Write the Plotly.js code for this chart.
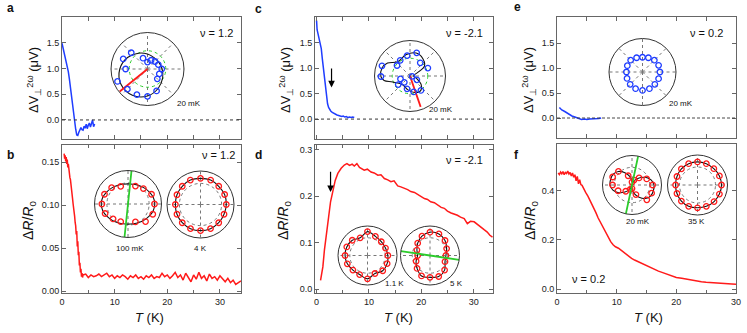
<!DOCTYPE html>
<html>
<head>
<meta charset="utf-8">
<script src="https://cdn.plot.ly/plotly-3.0.1.min.js"></script>
<style>html,body{margin:0;padding:0;background:#fff}#plot{width:747px;height:333px}</style>
</head>
<body>
<div id="plot"></div>
<script>
// main curves
var aT = [0, 0.2, 0.4, 0.6, 0.8, 1.0, 1.2, 1.4, 1.6, 1.8, 2.0, 2.2, 2.4, 2.6, 2.8, 3.0, 3.2, 3.4, 3.6, 3.8, 4.0, 4.2, 4.4, 4.6, 4.8, 5.0, 5.2, 5.4, 5.6, 5.8, 6.0, 6.2];
var aV = [1.49, 1.40, 1.30, 1.25, 1.17, 1.05, 0.94, 0.80, 0.62, 0.45, 0.28, 0.08, -0.05, -0.18, -0.29, -0.30, -0.24, -0.20, -0.15, -0.19, -0.20, -0.12, -0.16, -0.08, -0.17, -0.10, -0.06, -0.14, -0.05, 0.00, -0.13, -0.08];

var bT = [0.4, 0.5, 0.6, 0.7, 0.8, 0.9, 1.0, 1.1, 1.2, 1.3, 1.4, 1.5, 1.6, 1.7, 1.8, 1.9, 2.0, 2.1, 2.2, 2.3, 2.4, 2.5, 2.6, 2.7, 2.8, 2.9, 3.0, 3.1, 3.2, 3.3, 3.4, 3.5, 3.6, 3.7, 3.8, 3.9, 4.0,
  4.5, 5, 5.5, 6, 6.5, 7, 7.5, 8, 8.5, 9, 9.5, 10, 10.5, 11, 11.5, 12, 12.5, 13, 13.5, 14, 14.5, 15, 15.5, 16, 16.5, 17, 17.5, 18, 18.5, 19, 19.5, 20,
  20.5, 21, 21.5, 22, 22.5, 23, 23.5, 24, 24.5, 25, 25.5, 26, 26.5, 27, 27.5, 28, 28.5, 29, 29.5, 30, 30.5, 31, 31.5, 32, 32.5, 33, 33.5, 34];
var bR = [0.160, 0.154, 0.158, 0.151, 0.156, 0.148, 0.153, 0.144, 0.148, 0.139, 0.141, 0.132, 0.130, 0.122, 0.118, 0.112, 0.108, 0.102, 0.098, 0.092, 0.087, 0.080, 0.076, 0.066, 0.070, 0.052, 0.058, 0.042, 0.046, 0.030, 0.033, 0.022, 0.026, 0.017, 0.021, 0.016, 0.019,
  0.020, 0.016, 0.019, 0.017, 0.018, 0.020, 0.017, 0.019, 0.021, 0.017, 0.019, 0.015, 0.018, 0.016, 0.019, 0.017, 0.014, 0.018, 0.016, 0.019, 0.015, 0.017, 0.014, 0.018, 0.016, 0.019, 0.015, 0.017, 0.016, 0.021, 0.017, 0.019,
  0.015, 0.018, 0.022, 0.016, 0.019, 0.013, 0.021, 0.016, 0.011, 0.019, 0.014, 0.022, 0.015, 0.018, 0.012, 0.020, 0.015, 0.017, 0.013, 0.018, 0.014, 0.011, 0.015, 0.010, 0.013, 0.008, 0.010, 0.012];

var cT = [0, 0.1, 0.3, 0.5, 0.7, 0.9, 1.1, 1.3, 1.5, 1.7, 1.9, 2.1, 2.3, 2.5, 2.7, 3.0, 3.3, 3.6, 3.9, 4.2, 4.5, 4.8, 5.1, 5.4, 5.7, 6.0, 6.3, 6.6, 6.9, 7.2];
var cV = [1.93, 1.75, 1.66, 1.58, 1.50, 1.38, 1.18, 0.98, 0.78, 0.58, 0.42, 0.30, 0.23, 0.18, 0.16, 0.13, 0.11, 0.09, 0.08, 0.07, 0.06, 0.05, 0.06, 0.04, 0.05, 0.03, 0.04, 0.03, 0.04, 0.03];

var dT = [0.76, 1.0, 1.2, 1.5, 1.85, 2.3, 2.67, 3.1, 3.56, 4.06, 4.7, 5.3, 5.8, 6.3, 6.8, 7.2, 7.7, 8.2, 8.7, 9.1, 9.7, 10.4, 11.0, 11.7, 12.3, 12.95, 13.6, 14.2, 14.8, 15.5, 16.1, 16.8, 17.4, 18.0, 18.7, 19.3, 20.0, 20.6, 21.2, 21.8, 22.5, 23.1, 23.8, 24.4, 25.0, 25.7, 26.3, 26.9, 27.5, 28.2, 28.8, 29.4, 30.1, 30.7, 31.4, 32.0, 32.6, 33.1, 33.6];
var dR = [0.019, 0.035, 0.048, 0.084, 0.120, 0.155, 0.188, 0.213, 0.234, 0.249, 0.260, 0.267, 0.270, 0.266, 0.269, 0.265, 0.270, 0.262, 0.258, 0.256, 0.258, 0.252, 0.250, 0.245, 0.246, 0.238, 0.235, 0.231, 0.233, 0.222, 0.220, 0.217, 0.214, 0.210, 0.208, 0.204, 0.199, 0.195, 0.193, 0.188, 0.186, 0.181, 0.176, 0.174, 0.168, 0.164, 0.162, 0.159, 0.155, 0.152, 0.141, 0.146, 0.145, 0.139, 0.134, 0.128, 0.123, 0.116, 0.112];

var eT = [0.4, 0.8, 1.3, 1.9, 2.5, 3.0, 3.5, 4.1, 4.6, 5.0, 5.5, 6.0, 6.5, 7.0, 7.4];
var eV = [0.21, 0.16, 0.13, 0.08, 0.04, 0.02, -0.01, -0.03, -0.02, -0.03, -0.02, -0.02, -0.01, -0.01, 0.0];

var fT = [0.2, 0.4, 0.6, 0.8, 1.0, 1.2, 1.4, 1.6, 1.8, 2.0, 2.2, 2.4, 2.6, 2.8, 3.0, 3.2, 3.4, 3.6, 3.8, 4.0, 4.2, 4.4, 4.8, 5.2, 5.6, 6.1, 6.5, 6.9, 7.3, 7.8, 8.2, 8.6, 9.0, 9.4, 9.8, 10.3, 10.8, 11.4, 11.9, 12.5, 13.0, 13.6, 14.1, 14.7, 15.3, 15.9, 16.4, 17.0, 17.6, 18.1, 18.6, 19.2, 20.0, 20.9, 21.7, 22.6, 23.4, 24.2, 25.0, 25.9, 26.7, 27.6, 28.2, 28.7, 29.3, 30.0];
var fR = [0.472, 0.466, 0.476, 0.469, 0.478, 0.465, 0.474, 0.470, 0.480, 0.468, 0.474, 0.460, 0.472, 0.455, 0.465, 0.440, 0.458, 0.428, 0.445, 0.425, 0.422, 0.410, 0.393, 0.377, 0.358, 0.336, 0.312, 0.289, 0.270, 0.248, 0.228, 0.207, 0.193, 0.180, 0.172, 0.166, 0.156, 0.146, 0.136, 0.125, 0.118, 0.111, 0.104, 0.098, 0.091, 0.084, 0.079, 0.073, 0.068, 0.064, 0.058, 0.053, 0.047, 0.044, 0.040, 0.037, 0.033, 0.030, 0.028, 0.026, 0.024, 0.023, 0.021, 0.020, 0.021, 0.020];

// polar insets (angle in degrees, r relative to outer circle)
var ang16 = [0, 22.5, 45, 67.5, 90, 112.5, 135, 157.5, 180, 202.5, 225, 247.5, 270, 292.5, 315, 337.5];
var ang30 = [0, 30, 60, 90, 120, 150, 180, 210, 240, 270, 300, 330, 360];
var ang15 = [0, 15, 30, 45, 60, 75, 90, 105, 120, 135, 150, 165, 180, 195, 210, 225, 240, 255, 270, 285, 300, 315, 330, 345, 360];

var aPolR = [0.39, 0.32, 0.29, 0.26, 0.19, 0.32, 0.63, 0.72, 0.60, 0.89, 0.78, 0.76, 0.75, 0.65, 0.38, 0.35];
var aFitR = [0.40, 0.36, 0.36, 0.41, 0.50, 0.63, 0.76, 0.84, 0.83, 0.74, 0.60, 0.48, 0.40];

var b1Ang = [0, 22.5, 45, 67.5, 112.5, 135, 157.5, 180, 202.5, 225, 247.5, 292.5, 315, 337.5];
var b1R = [0.79, 0.76, 0.65, 0.58, 0.57, 0.69, 0.76, 0.78, 0.74, 0.63, 0.57, 0.58, 0.74, 0.80];
var b1FitR = [0.80, 0.78, 0.73, 0.68, 0.64, 0.61, 0.60, 0.61, 0.64, 0.68, 0.73, 0.78, 0.80, 0.78, 0.73, 0.68, 0.64, 0.61, 0.60, 0.61, 0.64, 0.68, 0.73, 0.78, 0.80];
var b2R = [0.77, 0.78, 0.77, 0.79, 0.78, 0.79, 0.77, 0.76, 0.75, 0.76, 0.77, 0.78, 0.78, 0.78, 0.77, 0.76];

var cAng = [24, 52, 74, 98, 122, 141, 160, 181, 197, 216, 228, 257, 283, 307, 331, 350];
var cR = [0.55, 0.47, 0.68, 0.58, 0.52, 0.47, 0.84, 0.82, 0.28, 0.41, 0.24, 0.37, 0.46, 0.51, 0.22, 0.06];
var cFitAng = [0, 27, 34, 54, 75, 101, 131, 150, 164, 181, 190, 199, 230, 260, 285, 303, 322, 342, 360];
var cFitR = [0.10, 0.30, 0.49, 0.61, 0.67, 0.61, 0.53, 0.73, 0.82, 0.82, 0.74, 0.52, 0.32, 0.39, 0.48, 0.52, 0.40, 0.18, 0.10];

var d1R = [0.69, 0.66, 0.66, 0.70, 0.81, 0.65, 0.73, 0.76, 0.76, 0.74, 0.70, 0.70, 0.79, 0.66, 0.73, 0.72];
var d2R = [0.54, 0.61, 0.72, 0.79, 0.79, 0.71, 0.59, 0.48, 0.42, 0.51, 0.62, 0.75, 0.74, 0.77, 0.70, 0.55];

var ePolR = [0.52, 0.52, 0.50, 0.46, 0.44, 0.46, 0.50, 0.49, 0.48, 0.50, 0.52, 0.54, 0.55, 0.54, 0.52, 0.52];

var f1R = [0.70, 0.54, 0.34, 0.18, 0.10, 0.34, 0.65, 0.71, 0.66, 0.51, 0.30, 0.16, 0.12, 0.35, 0.71, 0.72];
var f1FitR = [0.745, 0.67, 0.52, 0.34, 0.18, 0.085, 0.15, 0.30, 0.48, 0.65, 0.735, 0.75, 0.745, 0.67, 0.52, 0.34, 0.18, 0.085, 0.15, 0.30, 0.48, 0.65, 0.735, 0.75, 0.745];
var f2R = [0.80, 0.79, 0.77, 0.77, 0.77, 0.77, 0.76, 0.74, 0.73, 0.74, 0.76, 0.77, 0.76, 0.77, 0.78, 0.79];

var BLUE = '#1f3dff', RED = '#ff1a1a', GREEN = '#2ccc2c';
var W = 747, H = 333;
function px(x) { return x / W; }
function py(y) { return 1 - y / H; }
function close(a) { return a.concat([a[0]]); }

var data = [
  {x: aT, y: aV, xaxis: 'x', yaxis: 'y', mode: 'lines', line: {color: BLUE, width: 1.5}},
  {x: bT, y: bR, xaxis: 'x2', yaxis: 'y2', mode: 'lines', line: {color: RED, width: 1.5}},
  {x: cT, y: cV, xaxis: 'x3', yaxis: 'y3', mode: 'lines', line: {color: BLUE, width: 1.5}},
  {x: dT, y: dR, xaxis: 'x4', yaxis: 'y4', mode: 'lines', line: {color: RED, width: 1.5}},
  {x: eT, y: eV, xaxis: 'x5', yaxis: 'y5', mode: 'lines', line: {color: BLUE, width: 1.5}},
  {x: fT, y: fR, xaxis: 'x6', yaxis: 'y6', mode: 'lines', line: {color: RED, width: 1.5}}
];

function fit(sub, th, r) {
  return {type: 'scatterpolar', subplot: sub, theta: th, r: r, mode: 'lines',
    line: {color: '#111', width: 1.1, shape: 'spline'}};
}
function pts(sub, th, r, col) {
  return {type: 'scatterpolar', subplot: sub, theta: th, r: r, mode: 'markers',
    marker: {symbol: 'circle-open', size: 5.5, color: col, line: {width: 1.3}}};
}
function ray(sub, th, r, col) {
  return {type: 'scatterpolar', subplot: sub, theta: th, r: r, mode: 'lines',
    line: {color: col, width: 1.8}};
}

data.push(fit('polar', ang30, aFitR), ray('polar', [0, 219], [0, 0.98], RED), pts('polar', ang16, aPolR, BLUE));
data.push(fit('polar2', ang15, b1FitR), pts('polar2', b1Ang, b1R, RED), ray('polar2', [84, 0, 264], [0.99, 0, 0.99], GREEN));
data.push(fit('polar3', close(ang16), close(b2R)), pts('polar3', ang16, b2R, RED));
data.push(fit('polar4', cFitAng, cFitR), ray('polar4', [0, 289], [0, 0.92], RED), pts('polar4', cAng, cR, BLUE));
data.push(fit('polar5', close(ang16), close(d1R)), pts('polar5', ang16, d1R, RED));
data.push(fit('polar6', close(ang16), close(d2R)), pts('polar6', ang16, d2R, RED), ray('polar6', [171.5, 0, 351.5], [1, 0, 1], GREEN));
data.push(pts('polar7', ang16, ePolR, BLUE));
data.push(fit('polar8', ang15, f1FitR), pts('polar8', ang16, f1R, RED), ray('polar8', [78, 0, 258], [1, 0, 1], GREEN));
data.push(fit('polar9', close(ang16), close(f2R)), pts('polar9', ang16, f2R, RED));

function ax(extra) {
  var base = {showline: true, linecolor: '#666', linewidth: 1, mirror: 'ticks', ticks: 'inside', ticklen: 4,
    tickcolor: '#666', showgrid: false, zeroline: false, tickfont: {size: 9, color: '#222'}};
  for (var k in extra) base[k] = extra[k];
  return base;
}

function polar(cx, cy, R, dt, ring, ringCol) {
  return {
    domain: {x: [px(cx - R), px(cx + R)], y: [py(cy + R), py(cy - R)]},
    bgcolor: 'rgba(0,0,0,0)',
    angularaxis: {showline: true, linecolor: '#333', linewidth: 1, showticklabels: false, ticks: '',
      tickmode: 'linear', tick0: 0, dtick: dt, gridcolor: '#777', griddash: 'dot', gridwidth: 1},
    radialaxis: {range: [0, 1], showline: false, showticklabels: false, ticks: '',
      tickvals: ring ? [ring] : [], showgrid: !!ring, gridcolor: ringCol || '#777', griddash: 'dot', gridwidth: 1}
  };
}

function txt(x, y, s, size, anchor, extra) {
  var o = {xref: 'paper', yref: 'paper', x: px(x), y: py(y), text: s, showarrow: false,
    xanchor: anchor || 'center', yanchor: 'middle', font: {size: size, color: '#111'}};
  for (var k in extra) o[k] = extra[k];
  return o;
}

var yV = 'ΔV<sub>⊥</sub><sup>2ω</sup> (μV)';
var yR = 'Δ<i>R</i>/<i>R</i><sub>0</sub>';
var xT = '<i>T</i> (K)';

var annotations = [
  txt(10, 8, '<b>a</b>', 12), txt(10, 155, '<b>b</b>', 12), txt(258, 9, '<b>c</b>', 12),
  txt(258, 155, '<b>d</b>', 12), txt(517, 7, '<b>e</b>', 12), txt(516, 155, '<b>f</b>', 12),
  txt(235, 33, 'ν = 1.2', 11, 'right'), txt(237, 155, 'ν = 1.2', 11, 'right'),
  txt(485, 33, 'ν = -2.1', 11, 'right'), txt(485, 160, 'ν = -2.1', 11, 'right'),
  txt(725, 33, 'ν = 0.2', 11, 'right'), txt(570, 279, 'ν = 0.2', 11, 'left'),
  txt(189, 103, '20 mK', 8), txt(441, 109, '20 mK', 8), txt(681, 103, '20 mK', 8),
  txt(130, 248, '100 mK', 8), txt(200, 248, '4 K', 8),
  txt(394, 283, '1.1 K', 8), txt(456, 283, '5 K', 8),
  txt(638, 221, '20 mK', 8), txt(696, 221, '35 K', 8),
  txt(34, 80, yV, 13, 'center', {textangle: -90}), txt(286, 80, yV, 13, 'center', {textangle: -90}),
  txt(529, 80, yV, 13, 'center', {textangle: -90}),
  txt(29, 220, yR, 14, 'center', {textangle: -90}), txt(284, 220, yR, 14, 'center', {textangle: -90}),
  txt(531, 220, yR, 14, 'center', {textangle: -90}),
  txt(149, 317, xT, 13), txt(398, 317, xT, 13), txt(648, 317, xT, 13),
  {xref: 'x3', yref: 'y3', x: 2.86, y: 0.62, axref: 'x3', ayref: 'y3', ax: 2.86, ay: 1.02, text: '',
    showarrow: true, arrowhead: 2, arrowsize: 1.1, arrowwidth: 1.2, arrowcolor: '#000'},
  {xref: 'x4', yref: 'y4', x: 2.67, y: 0.209, axref: 'x4', ayref: 'y4', ax: 2.67, ay: 0.256, text: '',
    showarrow: true, arrowhead: 2, arrowsize: 1.1, arrowwidth: 1.2, arrowcolor: '#000'}
];

var shapes = [
  {type: 'line', xref: 'x domain', x0: 0, x1: 1, yref: 'y', y0: 0, y1: 0, line: {color: '#333', width: 1, dash: 'dot'}},
  {type: 'line', xref: 'x3 domain', x0: 0, x1: 1, yref: 'y3', y0: 0, y1: 0, line: {color: '#333', width: 1, dash: 'dot'}},
  {type: 'line', xref: 'x5 domain', x0: 0, x1: 1, yref: 'y5', y0: 0, y1: 0, line: {color: '#333', width: 0.9, dash: '3px,2px'}}
];

var layout = {
  width: W, height: H,
  margin: {l: 0, r: 0, t: 0, b: 0},
  paper_bgcolor: '#fff', plot_bgcolor: '#fff',
  showlegend: false,
  font: {family: 'Liberation Sans, Arial, sans-serif', color: '#111'},
  xaxis: ax({domain: [px(62), px(241)], range: [0, 34], dtick: 5, showticklabels: false, anchor: 'y'}),
  yaxis: ax({domain: [py(139), py(17)], range: [-0.37, 2.0], tickvals: [0, 0.5, 1, 1.5], tickformat: '.1f', anchor: 'x'}),
  xaxis2: ax({domain: [px(62), px(241)], range: [0, 34], dtick: 10, anchor: 'y2',
    minor: {dtick: 5, ticks: 'inside', ticklen: 3, tickcolor: '#666'}}),
  yaxis2: ax({domain: [py(293), py(145)], range: [-0.002, 0.17], dtick: 0.05, tickformat: '.2f', anchor: 'x2'}),
  xaxis3: ax({domain: [px(315), px(493)], range: [-0.3, 33.7], dtick: 5, showticklabels: false, anchor: 'y3'}),
  yaxis3: ax({domain: [py(139), py(17)], range: [-0.39, 2.0], tickvals: [0, 0.5, 1, 1.5], tickformat: '.1f', anchor: 'x3'}),
  xaxis4: ax({domain: [px(315), px(493)], range: [-0.3, 33.7], dtick: 10, anchor: 'y4',
    minor: {dtick: 5, ticks: 'inside', ticklen: 3, tickcolor: '#666'}}),
  yaxis4: ax({domain: [py(293), py(145)], range: [-0.008, 0.31], dtick: 0.1, tickformat: '.1f', anchor: 'x4'}),
  xaxis5: ax({domain: [px(557), px(736)], range: [0, 30], dtick: 5, showticklabels: false, anchor: 'y5'}),
  yaxis5: ax({domain: [py(138), py(17)], range: [-0.4, 2.02], tickvals: [0, 0.5, 1, 1.5], tickformat: '.1f', anchor: 'x5'}),
  xaxis6: ax({domain: [px(557), px(736)], range: [0, 30], dtick: 10, anchor: 'y6',
    minor: {dtick: 5, ticks: 'inside', ticklen: 3, tickcolor: '#666'}}),
  yaxis6: ax({domain: [py(293), py(144)], range: [-0.016, 0.59], dtick: 0.2, tickformat: '.1f', anchor: 'x6'}),
  polar: polar(147.5, 69, 36.5, 45, 0.5, GREEN),
  polar2: polar(128, 204, 33.5, 90, 0.63, '#777'),
  polar3: polar(200.5, 204.5, 33.5, 90, 0.63, '#777'),
  polar4: polar(410, 76, 35.5, 45, 0.5, GREEN),
  polar5: polar(367.5, 255.5, 29.5, 90, 0.6, '#777'),
  polar6: polar(430, 255.5, 29.5, 90, 0.6, '#777'),
  polar7: polar(642.5, 72, 33.5, 45, 0, null),
  polar8: polar(632, 185, 29.5, 90, 0.6, '#777'),
  polar9: polar(697.5, 185, 30, 90, 0.6, '#777'),
  annotations: annotations,
  shapes: shapes
};

Plotly.newPlot('plot', data, layout, {staticPlot: true});
</script>
</body>
</html>
